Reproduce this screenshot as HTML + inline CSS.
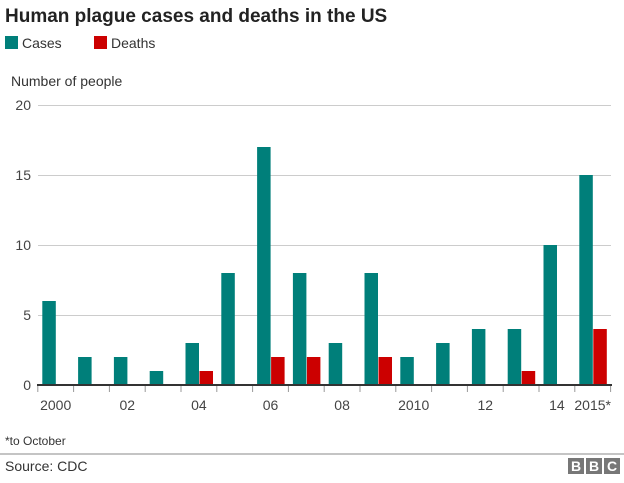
<!DOCTYPE html><html><head><style>body{margin:0;width:624px;height:478px;background:#fff;overflow:hidden;font-family:"Liberation Sans",sans-serif}</style></head><body>
<svg width="624" height="478" xmlns="http://www.w3.org/2000/svg" font-family="Liberation Sans, sans-serif">
<text x="5" y="22" font-size="19" font-weight="bold" fill="#222">Human plague cases and deaths in the US</text>
<rect x="5" y="36" width="13" height="13" fill="#007f7a"/><text x="22" y="48" font-size="14" fill="#333">Cases</text>
<rect x="94" y="36" width="13" height="13" fill="#cc0000"/><text x="111" y="48" font-size="14" fill="#333">Deaths</text>
<text x="11" y="86" font-size="14" fill="#333">Number of people</text>
<g stroke="#ccc" stroke-width="1"><line x1="38" x2="611" y1="105.5" y2="105.5"/><line x1="38" x2="611" y1="175.5" y2="175.5"/><line x1="38" x2="611" y1="245.5" y2="245.5"/><line x1="38" x2="611" y1="315.5" y2="315.5"/></g>
<g font-size="14" fill="#444" text-anchor="end"><text x="31" y="110">20</text><text x="31" y="180">15</text><text x="31" y="250">10</text><text x="31" y="320">5</text><text x="31" y="390">0</text></g>
<g id="bars"></g>
<line x1="37" x2="612" y1="385" y2="385" stroke="#333" stroke-width="2"/>
<g id="ticks" stroke="#999"></g>
<g font-size="14" fill="#444" text-anchor="middle" id="lab"></g>
<text x="5" y="445" font-size="12" fill="#333">*to October</text>
<line x1="0" x2="624" y1="454" y2="454" stroke="#888"/>
<text x="5" y="471" font-size="14" fill="#333">Source: CDC</text>
<g fill="#777"><rect x="568" y="458" width="16" height="16"/><rect x="586" y="458" width="16" height="16"/><rect x="604" y="458" width="16" height="16"/></g>
<g font-size="14" font-weight="bold" fill="#fff" text-anchor="middle"><text x="576" y="471">B</text><text x="594" y="471">B</text><text x="612" y="471">C</text></g>
</svg>
<script>
var c=[6,2,2,1,3,8,17,8,3,8,2,3,4,4,10,15],d=[0,0,0,0,1,0,2,2,0,2,0,0,0,1,0,4];
var w=35.8,x0=37.8,s='',t='',l='';
var labs={0:'2000',2:'02',4:'04',6:'06',8:'08',10:'2010',12:'12',14:'14',15:'2015*'};
for(var i=0;i<16;i++){var b=x0+i*w;
s+='<rect x="'+(b+4.5)+'" y="'+(385-c[i]*14)+'" width="13.5" height="'+c[i]*14+'" fill="#007f7a"/>';
if(d[i])s+='<rect x="'+(b+18.5)+'" y="'+(385-d[i]*14)+'" width="13.5" height="'+d[i]*14+'" fill="#cc0000"/>';
if(labs[i])l+='<text x="'+(b+w/2)+'" y="410">'+labs[i]+'</text>';}
for(var i=0;i<=16;i++){var b=x0+i*w;t+='<line x1="'+b+'" x2="'+b+'" y1="386" y2="392"/>';}
document.getElementById('bars').innerHTML=s;document.getElementById('ticks').innerHTML=t;document.getElementById('lab').innerHTML=l;
</script>
</body></html>
